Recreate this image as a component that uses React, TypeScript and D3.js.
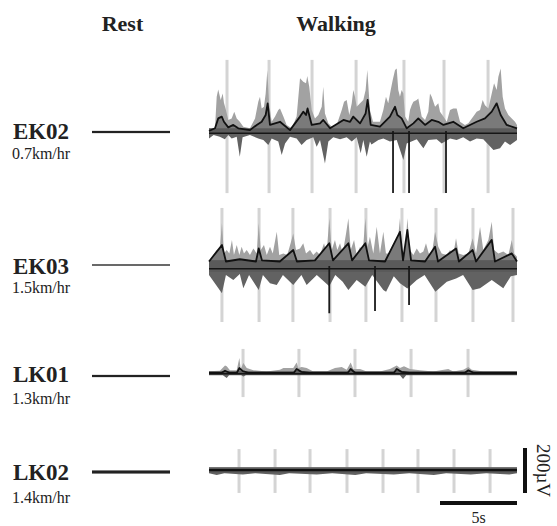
import React, { useRef, useEffect } from 'react';
import * as d3 from 'd3';

type Pt = [number, number];

const columnTitles = ['Rest', 'Walking'];
const subjects = ['EK02', 'EK03', 'LK01', 'LK02'];
const speeds = ['0.7km/hr', '1.5km/hr', '1.3km/hr', '1.4km/hr'];

// noise amplitude (µV) of the rest trace and of the walking baseline band
const restNoise = [5, 3, 5, 7];
const walkNoise = [12, 26, 8, 12];
// level (µV) of the averaged negative trace
const negLevel = [-10, -12, -3, -2];

// step onsets (s)
const stepTimes = [
  [1.17, 3.9, 6.69, 9.55, 12.66, 15.26, 18.12],
  [0.84, 3.25, 5.45, 7.86, 10.19, 12.53, 14.74, 17.14, 19.74],
  [2.21, 5.84, 9.48, 13.12, 16.82],
  [1.95, 4.29, 6.56, 8.96, 11.3, 13.57, 15.91, 18.25],
];
// µV span of the step markers [bottom, top]
const stepSpan: Pt[] = [[-276, 316], [-249, 258], [-107, 107], [-102, 93]];

// upper envelope of the overlaid traces (s, µV)
const ek02Upper: Pt[] = [[0,12],[0.39,12],[0.5,152],[0.6,185],[0.76,138],[0.89,167],[0.97,126],[1.1,93],[1.25,49],[1.47,56],[1.64,86],[1.8,56],[2.0,41],[2.23,19],[2.66,12],[2.99,56],[3.2,130],[3.31,152],[3.42,100],[3.57,108],[3.68,167],[3.79,271],[3.9,123],[4.07,41],[4.29,64],[4.5,93],[4.61,100],[4.83,64],[5.04,27],[5.37,12],[5.69,64],[5.91,234],[6.12,219],[6.3,212],[6.38,244],[6.51,197],[6.67,93],[6.88,56],[7.1,71],[7.32,108],[7.42,197],[7.53,78],[7.75,34],[8.07,12],[8.29,27],[8.62,93],[8.77,130],[8.94,138],[9.11,71],[9.27,123],[9.37,182],[9.48,152],[9.59,108],[9.81,123],[10.02,138],[10.17,182],[10.28,271],[10.45,93],[10.65,41],[11.1,41],[11.32,93],[11.49,152],[11.64,123],[11.8,182],[11.93,227],[12.08,271],[12.19,278],[12.29,182],[12.4,152],[12.51,182],[12.62,167],[12.73,64],[12.94,41],[13.05,93],[13.16,115],[13.27,130],[13.49,138],[13.59,145],[13.81,64],[14.03,49],[14.24,86],[14.35,167],[14.46,152],[14.68,108],[14.89,123],[15.0,86],[15.22,64],[15.44,41],[15.65,93],[15.86,100],[16.08,100],[16.3,41],[16.62,27],[16.84,34],[17.16,64],[17.38,86],[17.6,93],[17.77,138],[17.92,115],[18.14,100],[18.36,167],[18.51,212],[18.68,182],[18.79,241],[18.94,278],[19.07,152],[19.22,100],[19.44,71],[19.66,56],[19.87,41],[20,27]];
const ek03Upper: Pt[] = [[0,19],[0.28,49],[0.5,71],[0.67,49],[0.84,190],[0.97,56],[1.15,71],[1.32,56],[1.49,116],[1.62,49],[1.8,93],[1.97,49],[2.12,86],[2.27,56],[2.45,71],[2.66,49],[2.88,78],[3.1,56],[3.23,190],[3.36,71],[3.57,93],[3.75,49],[3.96,86],[4.14,56],[4.4,152],[4.56,49],[4.83,56],[5.08,49],[5.3,101],[5.47,145],[5.65,71],[5.91,78],[6.12,101],[6.3,56],[6.56,71],[6.77,49],[6.99,64],[7.21,49],[7.47,101],[7.64,56],[7.81,212],[7.97,71],[8.18,116],[8.33,71],[8.51,101],[8.68,56],[8.9,145],[9.05,212],[9.2,71],[9.42,116],[9.59,49],[9.81,86],[9.98,56],[10.15,212],[10.3,86],[10.45,130],[10.67,56],[10.89,175],[11.1,56],[11.32,152],[11.49,56],[11.75,56],[11.97,71],[12.19,64],[12.4,212],[12.53,71],[12.73,56],[12.88,212],[13.05,71],[13.27,49],[13.49,78],[13.7,56],[13.92,64],[14.09,101],[14.27,56],[14.46,49],[14.68,152],[14.89,86],[15.11,56],[15.44,49],[15.65,71],[15.86,49],[16.04,123],[16.21,56],[16.51,49],[16.84,56],[17.12,123],[17.34,56],[17.6,175],[17.81,71],[18.14,116],[18.36,197],[18.51,71],[18.79,56],[19.11,64],[19.44,49],[19.66,116],[19.81,56],[20,41]];
const lk01Upper: Pt[] = [[0,8],[0.71,10],[1.04,33],[1.15,30],[1.36,12],[1.8,12],[1.97,67],[2.06,18],[2.23,44],[2.45,22],[2.88,12],[3.75,7],[4.61,15],[4.83,22],[5.47,22],[5.69,47],[5.8,22],[6.02,27],[6.34,22],[6.77,7],[7.64,7],[8.18,22],[8.62,27],[8.94,15],[9.2,47],[9.37,18],[9.81,18],[10.24,7],[11.1,7],[11.75,18],[12.19,33],[12.4,22],[12.66,30],[13.05,18],[13.7,12],[14.56,7],[15.54,18],[15.86,7],[16.51,15],[16.84,27],[17.06,15],[17.81,7],[18.9,7],[20,7]];
const lk02Upper: Pt[] = [[0,12],[20,12]];

// lower envelope (s, µV)
const ek02Lower: Pt[] = [[0,-33],[0.3,-18],[0.7,-25],[1.03,-37],[1.25,-18],[1.47,-33],[1.8,-25],[2.0,-114],[2.18,-28],[2.66,-18],[3.2,-33],[3.53,-40],[3.85,-62],[4.07,-33],[4.5,-47],[4.72,-107],[4.94,-55],[5.26,-25],[5.69,-33],[6.01,-62],[6.34,-40],[6.77,-28],[6.99,-70],[7.21,-40],[7.53,-144],[7.75,-47],[8.07,-28],[8.51,-37],[8.94,-28],[9.27,-47],[9.59,-28],[9.85,-99],[10.02,-40],[10.24,-114],[10.45,-47],[10.55,-60],[11.0,-40],[11.32,-33],[11.75,-47],[12.19,-40],[12.62,-129],[12.84,-55],[13.49,-37],[13.92,-77],[14.24,-40],[14.78,-37],[15.11,-55],[15.65,-33],[16.08,-40],[16.51,-28],[16.95,-47],[17.38,-33],[17.81,-37],[18.47,-84],[18.9,-77],[19.22,-47],[19.55,-62],[20,-40]];
const ek03Lower: Pt[] = [[0,-40],[0.84,-121],[1.1,-40],[1.58,-62],[2.0,-35],[2.23,-99],[2.6,-40],[3.23,-107],[3.5,-40],[3.96,-77],[4.4,-84],[4.8,-40],[5.47,-84],[6.0,-40],[6.34,-84],[7.0,-40],[7.81,-90],[8.2,-40],[8.68,-70],[9.05,-107],[9.59,-62],[10.15,-92],[10.6,-40],[11.32,-107],[11.5,-114],[12.0,-45],[12.4,-77],[12.88,-100],[13.49,-62],[14.0,-40],[14.7,-114],[15.44,-70],[16.04,-55],[16.5,-40],[17.12,-107],[17.6,-99],[18.36,-62],[19.11,-99],[19.6,-45],[20,-40]];
const lk01Lower: Pt[] = [[0,-10],[0.9,-10],[1.15,-22],[1.3,-10],[2.1,-10],[2.23,-15],[2.4,-10],[12.4,-10],[12.6,-27],[12.8,-10],[20,-10]];
const lk02Lower: Pt[] = [[0,-14],[0.5,-22],[1.0,-14],[2.2,-20],[3.0,-14],[4.6,-22],[5.2,-14],[7.0,-20],[8.0,-14],[9.5,-22],[10.2,-14],[12.0,-20],[13.0,-14],[14.6,-22],[15.4,-14],[17.0,-20],[18.0,-14],[19.5,-20],[20,-14]];

// averaged trace (s, µV)
const ek02Mean: Pt[] = [[0,0],[0.39,12],[0.6,56],[0.83,64],[0.97,41],[1.25,16],[1.58,27],[1.9,12],[2.66,4],[3.1,27],[3.42,41],[3.68,71],[3.81,123],[3.96,27],[4.61,41],[5.26,4],[5.91,64],[6.12,86],[6.3,71],[6.4,100],[6.67,27],[7.21,34],[7.42,49],[7.86,12],[8.73,49],[9.16,41],[9.37,64],[9.81,34],[10.17,78],[10.3,138],[10.5,27],[11.1,19],[11.75,64],[12.08,108],[12.23,71],[12.51,56],[12.84,12],[13.27,34],[13.59,56],[14.03,27],[14.46,49],[14.89,41],[15.22,27],[15.86,41],[16.51,12],[17.38,41],[17.92,56],[18.36,86],[18.68,123],[18.94,71],[19.33,27],[20,12]];
const ek03Mean: Pt[] = [[0,20],[0.84,93],[1.1,20],[2.0,30],[3.05,20],[3.23,78],[3.44,25],[4.6,20],[5.47,71],[5.71,20],[6.88,25],[7.81,101],[8.05,25],[9.05,101],[9.29,25],[10.15,101],[10.39,25],[11.43,20],[12.4,152],[12.6,25],[12.88,160],[13.12,25],[14.03,20],[14.68,86],[14.87,20],[16.04,78],[16.23,20],[17.12,71],[17.34,20],[18.36,116],[18.57,20],[19.66,56],[20,20]];
const lk01Mean: Pt[] = [[0,0],[0.8,0],[1.04,10],[1.36,0],[1.8,0],[1.97,22],[2.2,8],[2.6,0],[5.5,0],[5.69,18],[6.0,5],[6.5,0],[9.0,0],[9.2,18],[9.5,0],[12.0,0],[12.19,18],[12.5,5],[13,0],[16.6,0],[16.84,12],[17.2,0],[20,0]];
const lk02Mean: Pt[] = [[0,0],[20,0]];

// large single negative deflections (s, µV)
const ek02Spikes: Pt[] = [[11.95,-276],[12.99,-276],[15.39,-276]];
const ek03Spikes: Pt[] = [[7.81,-210],[10.78,-200],[12.99,-173]];

const uppers = [ek02Upper, ek03Upper, lk01Upper, lk02Upper];
const lowers = [ek02Lower, ek03Lower, lk01Lower, lk02Lower];
const means = [ek02Mean, ek03Mean, lk01Mean, lk02Mean];
const spikes: Pt[][] = [ek02Spikes, ek03Spikes, [], []];

const rowBase = [131, 266, 373, 470];
const restBase = [132, 265, 376, 472];
const labelY = [138.5, 273.5, 381.5, 480];
const speedY = [159, 293, 404, 503];

const W = 557;
const H = 526;
const font = '"Liberation Serif", "Times New Roman", serif';

const App = () => {
  const svgRef = useRef<SVGSVGElement>(null);

  useEffect(() => {
    const svg = d3.select(svgRef.current);
    svg.selectAll('*').remove();

    const x = d3.scaleLinear().domain([0, 20]).range([209, 517]);
    const xRest = d3.scaleLinear().domain([0, 5]).range([92, 170]);
    const pxPerUV = 45 / 200;
    const yFor = (base: number) => d3.scaleLinear().domain([-200, 200]).range([base + 200 * pxPerUV, base - 200 * pxPerUV]);

    svg.selectAll('text.title')
      .data(columnTitles)
      .enter().append('text')
      .attr('x', (d, i) => (i === 0 ? 122.5 : 336))
      .attr('y', 30.5)
      .attr('text-anchor', 'middle')
      .attr('font-family', font)
      .attr('font-weight', 'bold')
      .attr('font-size', 22)
      .attr('fill', '#222')
      .text(d => d);

    subjects.forEach((name, i) => {
      const y = yFor(rowBase[i]);
      const g = svg.append('g');

      g.append('text')
        .attr('x', 41).attr('y', labelY[i])
        .attr('text-anchor', 'middle')
        .attr('font-family', font).attr('font-weight', 'bold').attr('font-size', 23)
        .attr('fill', '#222')
        .text(name);
      g.append('text')
        .attr('x', 41).attr('y', speedY[i])
        .attr('text-anchor', 'middle')
        .attr('font-family', font).attr('font-size', 16)
        .attr('fill', '#222')
        .text(speeds[i]);

      // rest trace
      const yr = yFor(restBase[i]);
      g.append('rect')
        .attr('x', xRest(0)).attr('width', xRest(5) - xRest(0))
        .attr('y', yr(restNoise[i])).attr('height', yr(-restNoise[i]) - yr(restNoise[i]))
        .attr('fill', '#222');

      // step markers
      g.selectAll('line.step')
        .data(stepTimes[i])
        .enter().append('line')
        .attr('x1', d => x(d)).attr('x2', d => x(d))
        .attr('y1', y(stepSpan[i][1])).attr('y2', y(stepSpan[i][0]))
        .attr('stroke', '#d4d4d4').attr('stroke-width', 3);

      const area = d3.area<Pt>()
        .x(d => x(d[0]))
        .y0(rowBase[i])
        .y1(d => y(d[1]));

      g.append('path').datum(uppers[i]).attr('d', area).attr('fill', '#a2a2a2');
      g.append('path').datum(means[i]).attr('d', area).attr('fill', '#7a7a7a');
      g.append('path').datum(lowers[i]).attr('d', area).attr('fill', '#626262');

      g.append('rect')
        .attr('x', x(0)).attr('width', x(20) - x(0))
        .attr('y', y(walkNoise[i])).attr('height', y(-walkNoise[i]) - y(walkNoise[i]))
        .attr('fill', '#5a5a5a');

      g.selectAll('line.spike')
        .data(spikes[i])
        .enter().append('line')
        .attr('x1', d => x(d[0])).attr('x2', d => x(d[0]))
        .attr('y1', rowBase[i]).attr('y2', d => y(d[1]))
        .attr('stroke', '#1a1a1a').attr('stroke-width', 1.8);

      g.append('line')
        .attr('x1', x(0)).attr('x2', x(20))
        .attr('y1', y(negLevel[i])).attr('y2', y(negLevel[i]))
        .attr('stroke', '#161616').attr('stroke-width', 1.5);

      const line = d3.line<Pt>().x(d => x(d[0])).y(d => y(d[1]));
      g.append('path').datum(means[i]).attr('d', line)
        .attr('fill', 'none').attr('stroke', '#111').attr('stroke-width', 1.8)
        .attr('stroke-linejoin', 'round');
    });

    // scale bars
    const yb = yFor(470.5);
    svg.append('line')
      .attr('x1', 525).attr('x2', 525)
      .attr('y1', yb(100)).attr('y2', yb(-100))
      .attr('stroke', '#111').attr('stroke-width', 4);
    svg.append('text')
      .attr('transform', `translate(537,${yb(0)}) rotate(90)`)
      .attr('text-anchor', 'middle')
      .attr('font-family', font).attr('font-size', 19)
      .attr('fill', '#222')
      .text('200µV');
    svg.append('line')
      .attr('x1', x(15)).attr('x2', x(20))
      .attr('y1', 503).attr('y2', 503)
      .attr('stroke', '#111').attr('stroke-width', 4);
    svg.append('text')
      .attr('x', (x(15) + x(20)) / 2).attr('y', 523)
      .attr('text-anchor', 'middle')
      .attr('font-family', font).attr('font-size', 16)
      .attr('fill', '#222')
      .text('5s');
  }, []);

  return (
    <svg ref={svgRef} width={W} height={H} style={{ position: 'absolute', left: 0, top: 0, background: '#fff' }} />
  );
};

export default App;
